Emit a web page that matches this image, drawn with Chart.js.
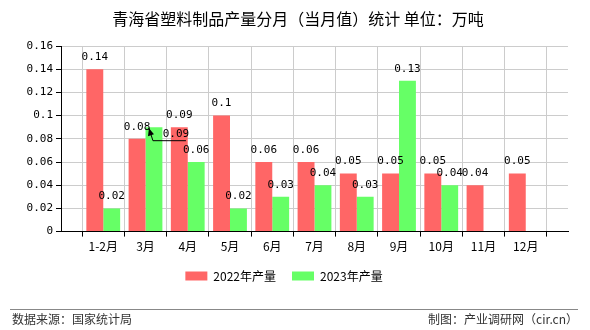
<!DOCTYPE html>
<html>
<head>
<meta charset="utf-8">
<script src="https://cdn.jsdelivr.net/npm/chart.js@4.4.0/dist/chart.umd.min.js"></script>
<style>
  html, body { margin: 0; padding: 0; background: #fff; }
  #wrap { width: 590px; height: 330px; position: relative; }
</style>
</head>
<body>
<div id="wrap"><canvas id="chinaChart"></canvas></div>
<script>
// 分类（前后留空位）
var months = ["", "1-2月", "3月", "4月", "5月", "6月", "7月", "8月", "9月", "10月", "11月", "12月", ""];
// 2022年产量（万吨）
var output2022 = [null, 0.14, 0.08, 0.09, 0.1, 0.06, 0.06, 0.05, 0.05, 0.05, 0.04, 0.05, null];
// 2023年产量（万吨）
var output2023 = [null, 0.02, 0.09, 0.06, 0.02, 0.03, 0.04, 0.03, 0.13, 0.04, null, null, null];
var seriesNames = ["2022年产量", "2023年产量"];
var yTicks = [0, 0.02, 0.04, 0.06, 0.08, 0.1, 0.12, 0.14, 0.16];

var titleText = "青海省塑料制品产量分月（当月值）统计 单位：万吨";
var sourceText = "数据来源：国家统计局";
var makerText = "制图：产业调研网（cir.cn）";

var numFont = "'DejaVu Sans Mono', monospace";
var cjkFont = "'Noto Sans CJK SC', sans-serif";

// 标题和底部文字
var textPlugin = {
  id: "textPlugin",
  afterDraw: function (chart) {
    var ctx = chart.ctx;
    ctx.save();
    ctx.fillStyle = "#000";
    ctx.font = "16px " + cjkFont;
    ctx.textAlign = "center";
    ctx.textBaseline = "middle";
    ctx.fillText(titleText, 298, 19);

    ctx.strokeStyle = "#888";
    ctx.lineWidth = 1;
    ctx.beginPath();
    ctx.moveTo(10, 309.5);
    ctx.lineTo(578, 309.5);
    ctx.stroke();

    ctx.fillStyle = "#333";
    ctx.font = "12px " + cjkFont;
    ctx.textAlign = "left";
    ctx.fillText(sourceText, 12, 319);
    ctx.textAlign = "right";
    ctx.fillText(makerText, 578, 319);
    ctx.restore();
  },
};

// 柱子上方的数值
var valuePlugin = {
  id: "valuePlugin",
  afterDatasetsDraw: function (chart) {
    var ctx = chart.ctx;
    ctx.save();
    ctx.fillStyle = "#000";
    ctx.font = "11px " + numFont;
    ctx.textAlign = "center";
    ctx.textBaseline = "middle";
    chart.data.datasets.forEach(function (ds, di) {
      var meta = chart.getDatasetMeta(di);
      meta.data.forEach(function (bar, i) {
        var v = ds.data[i];
        if (v === null || v === undefined) return;
        var txt = String(v);
        // 3月2023年的标签与旁边重叠，移到右下并画引线
        if (di === 1 && i === 2) {
          var ax = bar.x - 5, ay = bar.y + 1;
          ctx.fillText(txt, bar.x + 22, bar.y + 7);
          ctx.strokeStyle = "#000";
          ctx.beginPath();
          ctx.moveTo(ax, ay);
          ctx.lineTo(bar.x - 1, bar.y + 13.5);
          ctx.lineTo(bar.x + 32, bar.y + 13.5);
          ctx.stroke();
          // 箭头
          ctx.beginPath();
          ctx.moveTo(ax, ay);
          ctx.lineTo(ax - 1, ay + 8);
          ctx.lineTo(ax + 5, ay + 6);
          ctx.closePath();
          ctx.fill();
          return;
        }
        ctx.fillText(txt, bar.x, bar.y - 12);
      });
    });
    ctx.restore();
  },
};

var config = {
  type: "bar",
  data: {
    labels: months,
    datasets: [
      {
        label: seriesNames[0],
        data: output2022,
        backgroundColor: "rgb(255,102,102)",
        categoryPercentage: 0.8,
        barPercentage: 1.0,
      },
      {
        label: seriesNames[1],
        data: output2023,
        backgroundColor: "rgb(102,255,102)",
        categoryPercentage: 0.8,
        barPercentage: 1.0,
      },
    ],
  },
  options: {
    responsive: true,
    maintainAspectRatio: false,
    animation: false,
    layout: {
      padding: { top: 46, left: 0, right: 22, bottom: 38 },
    },
    plugins: {
      legend: {
        position: "bottom",
        labels: {
          boxWidth: 22,
          boxHeight: 9,
          padding: 16,
          color: "#000",
          font: { size: 12, family: cjkFont },
        },
      },
      tooltip: { enabled: false },
    },
    scales: {
      x: {
        offset: false,
        afterFit: function (scale) {
          scale.height = scale.height - 3;
        },
        grid: {
          color: "#ccc",
          tickColor: "#000",
          tickLength: 5,
          drawOnChartArea: true,
        },
        border: { color: "#000" },
        ticks: {
          autoSkip: false,
          maxRotation: 0,
          padding: 3,
          color: "#000",
          font: { size: 12, family: cjkFont },
        },
      },
      y: {
        min: 0,
        max: 0.16,
        afterFit: function (scale) {
          scale.width = 61;
        },
        afterBuildTicks: function (scale) {
          scale.ticks = yTicks.map(function (v) { return { value: v }; });
        },
        grid: {
          color: "#ccc",
          tickColor: "#000",
          tickLength: 5,
        },
        border: { color: "#000" },
        ticks: {
          padding: 3,
          color: "#000",
          font: { size: 11, family: numFont },
          callback: function (value) {
            return String(Number(value.toFixed(2)));
          },
        },
      },
    },
  },
  plugins: [textPlugin, valuePlugin],
};

var chinaChart = new Chart(document.getElementById("chinaChart"), config);
</script>
</body>
</html>
